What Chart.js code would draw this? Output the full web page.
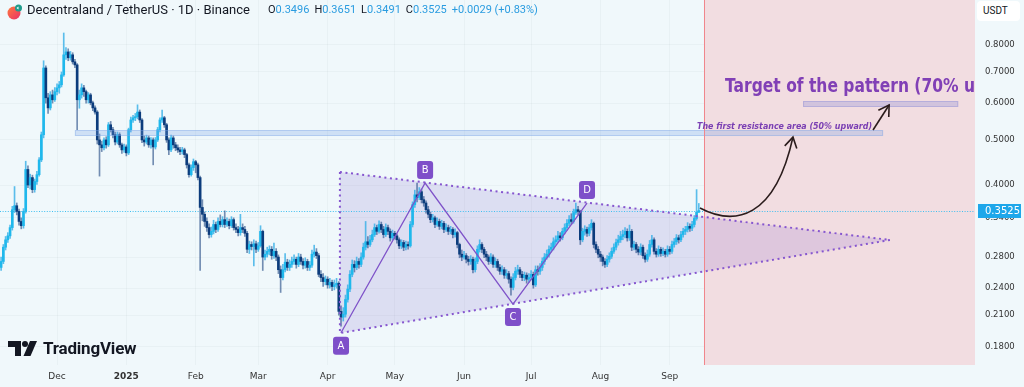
<!DOCTYPE html>
<html>
<head>
<meta charset="utf-8">
<script src="https://cdn.jsdelivr.net/npm/chart.js@4.4.0/dist/chart.umd.min.js"></script>
<style>
  html, body { margin: 0; padding: 0; background: #f0f8fb; }
  #wrap { position: relative; width: 1024px; height: 387px; overflow: hidden; font-family: Roboto, 'Noto Sans', sans-serif; }
  #chart { position: absolute; left: 0; top: 0; }
  .title { position: absolute; left: 27px; top: 2px; font-size: 13px; color: #131722; white-space: nowrap; }
  .ohlc { position: absolute; left: 268px; top: 3px; font-size: 11px; color: #131722; white-space: nowrap; }
  .ohlc b { font-weight: normal; color: #2a9ce0; margin-right: 5px; }
  .usdt { position: absolute; left: 977px; top: 1px; width: 43px; height: 20px; background: #fff; border-radius: 4px;
          font-size: 10px; color: #131722; line-height: 20px; padding-left: 6px; box-sizing: border-box; }
  .logo { position: absolute; left: 8px; top: 338px; display: flex; align-items: center; }
  .logo span { font-size: 17px; font-weight: 700; color: #131722; margin-left: 5px; letter-spacing: -0.2px; }
</style>
</head>
<body>
<div id="wrap">
  <canvas id="chart" width="1024" height="387"></canvas>
  <svg style="position:absolute;left:7px;top:4px" width="16" height="16" viewBox="0 0 16 16">
    <defs><linearGradient id="g" x1="0" y1="0" x2="1" y2="1"><stop offset="0" stop-color="#ff7a3d"/><stop offset="1" stop-color="#e8306a"/></linearGradient></defs>
    <circle cx="7" cy="9" r="6.5" fill="url(#g)"/>
    <circle cx="11.5" cy="4" r="3.5" fill="#1f9c8c"/>
    <path d="M9.5 4 l2 -1.5 l0 3 z" fill="#fff"/>
  </svg>
  <div class="title">Decentraland / TetherUS · 1D · Binance</div>
  <div class="ohlc">O<b>0.3496</b>H<b>0.3651</b>L<b>0.3491</b>C<b>0.3525</b><b>+0.0029 (+0.83%)</b></div>
  <div class="usdt">USDT</div>
  <div class="logo">
    <svg width="30" height="15" viewBox="0 0 30 15">
      <path d="M0 0 H13 V15 H7 V6 H0 Z" fill="#131722"/>
      <circle cx="17" cy="3" r="3" fill="#131722"/>
      <path d="M22 0 H29 L22.5 15 H15.5 Z" fill="#131722"/>
    </svg>
    <span>TradingView</span>
  </div>
</div>
<script>
// daily candles, DCN / USDT, 6 Nov 2024 .. 14 Sep 2025 (open = previous close)
const firstDay = Date.UTC(2024, 10, 6);
const totalDays = 436; // axis runs on into the projection area
const firstOpen = 0.266;

const close = [
  .274,.294,.305,.311,.324,.354,.361,.351,.334,.327,
  .351,.432,.400,.415,.391,.407,.421,.453,.513,.714,
  .616,.586,.625,.610,.635,.647,.657,.690,.762,.773,
  .751,.762,.736,.725,.610,.625,.647,.635,.610,.625,
  .601,.586,.574,.500,.488,.481,.500,.488,.539,.526,
  .513,.495,.513,.488,.476,.483,.469,.526,.552,.558,
  .561,.574,.552,.500,.495,.505,.488,.500,.483,.500,
  .526,.552,.558,.539,.500,.476,.505,.488,.481,.476,
  .472,.476,.465,.442,.421,.436,.449,.442,.415,.358,
  .346,.334,.324,.313,.318,.329,.321,.334,.329,.337,
  .329,.334,.327,.337,.324,.321,.316,.324,.321,.315,
  .291,.298,.295,.299,.291,.296,.318,.280,.284,.288,
  .291,.282,.288,.280,.263,.253,.263,.273,.266,.270,
  .274,.277,.270,.280,.274,.269,.274,.266,.269,.284,
  .287,.282,.257,.253,.248,.251,.244,.247,.242,.244,
  .246,.214,.208,.211,.227,.239,.257,.270,.266,.274,
  .270,.280,.294,.302,.298,.305,.313,.324,.318,.329,
  .321,.313,.324,.318,.308,.315,.311,.305,.296,.301,
  .294,.298,.296,.329,.363,.381,.376,.387,.372,.366,
  .354,.346,.337,.340,.329,.334,.326,.331,.321,.324,
  .318,.321,.313,.316,.298,.284,.280,.282,.277,.274,
  .277,.263,.274,.291,.298,.291,.284,.280,.274,.280,
  .270,.274,.266,.261,.263,.256,.258,.251,.241,.253,
  .261,.263,.257,.253,.256,.251,.253,.257,.244,.263,
  .261,.266,.274,.280,.284,.291,.294,.302,.305,.311,
  .308,.318,.324,.331,.337,.334,.349,.354,.351,.305,
  .318,.321,.315,.324,.331,.298,.291,.284,.280,.274,
  .270,.277,.281,.288,.294,.301,.305,.310,.313,.318,
  .308,.318,.294,.298,.291,.287,.294,.282,.277,.284,
  .298,.305,.288,.284,.291,.285,.288,.284,.291,.288,
  .298,.302,.308,.305,.313,.318,.321,.326,.323,.329,
  .339,.3496,.3525
];
const high = [
  .280,.298,.310,.316,.328,.360,.397,.366,.355,.340,
  .356,.450,.440,.422,.420,.412,.428,.458,.520,.740,
  .722,.630,.635,.640,.648,.660,.668,.700,.849,.790,
  .785,.775,.770,.745,.730,.640,.660,.655,.640,.632,
  .630,.606,.592,.578,.515,.497,.505,.508,.545,.548,
  .532,.520,.520,.518,.492,.490,.488,.530,.560,.565,
  .570,.595,.580,.556,.510,.512,.510,.506,.505,.506,
  .532,.558,.580,.562,.543,.505,.512,.510,.494,.488,
  .482,.482,.480,.468,.446,.442,.455,.452,.446,.418,
  .372,.350,.340,.330,.325,.336,.333,.340,.345,.342,
  .352,.340,.338,.342,.340,.330,.326,.346,.330,.326,
  .318,.303,.302,.305,.303,.301,.327,.320,.290,.294,
  .296,.295,.300,.292,.283,.268,.270,.285,.277,.276,
  .280,.283,.280,.285,.284,.278,.279,.277,.274,.290,
  .297,.292,.285,.262,.258,.255,.254,.252,.250,.250,
  .252,.248,.220,.218,.232,.244,.262,.276,.275,.280,
  .278,.286,.300,.334,.310,.312,.320,.330,.328,.335,
  .333,.326,.330,.328,.322,.320,.318,.314,.308,.305,
  .304,.303,.302,.334,.368,.390,.404,.395,.392,.378,
  .370,.360,.350,.346,.343,.340,.338,.336,.334,.330,
  .328,.326,.324,.322,.318,.300,.290,.288,.285,.281,
  .282,.280,.279,.296,.305,.301,.294,.288,.283,.285,
  .283,.279,.277,.270,.268,.266,.263,.261,.254,.258,
  .266,.269,.266,.261,.260,.259,.258,.262,.260,.268,
  .268,.271,.279,.285,.290,.296,.300,.308,.311,.318,
  .316,.323,.330,.337,.344,.347,.355,.366,.360,.353,
  .323,.327,.325,.329,.337,.333,.302,.295,.288,.283,
  .278,.282,.286,.293,.299,.306,.312,.318,.320,.324,
  .322,.328,.321,.303,.301,.295,.299,.297,.286,.290,
  .304,.312,.308,.292,.296,.294,.293,.291,.296,.295,
  .303,.307,.313,.312,.318,.323,.326,.332,.330,.334,
  .344,.391,.3651
];
const low = [
  .262,.271,.290,.301,.307,.320,.349,.345,.328,.322,
  .323,.348,.395,.392,.385,.386,.401,.418,.449,.505,
  .600,.570,.580,.600,.605,.625,.630,.650,.685,.745,
  .740,.742,.728,.715,.526,.585,.615,.620,.600,.600,
  .595,.578,.568,.490,.418,.472,.476,.480,.484,.520,
  .505,.488,.490,.482,.468,.470,.462,.465,.520,.545,
  .550,.555,.545,.493,.485,.490,.482,.480,.442,.478,
  .496,.520,.545,.532,.494,.465,.472,.480,.474,.470,
  .465,.466,.458,.435,.416,.418,.430,.425,.410,.262,
  .335,.326,.318,.308,.309,.314,.316,.318,.325,.325,
  .324,.326,.322,.324,.320,.316,.311,.312,.316,.310,
  .286,.285,.290,.268,.286,.288,.294,.262,.276,.280,
  .283,.277,.278,.275,.258,.235,.250,.260,.262,.262,
  .266,.270,.265,.267,.270,.264,.265,.262,.262,.266,
  .280,.278,.254,.248,.242,.244,.240,.240,.237,.238,
  .240,.210,.199,.204,.208,.224,.236,.254,.260,.263,
  .265,.267,.277,.290,.293,.295,.302,.310,.313,.315,
  .316,.308,.310,.313,.303,.305,.306,.300,.292,.292,
  .289,.290,.291,.294,.325,.358,.368,.372,.366,.360,
  .348,.340,.332,.333,.324,.326,.321,.322,.316,.318,
  .313,.314,.308,.309,.293,.279,.275,.277,.272,.269,
  .270,.259,.260,.271,.287,.286,.279,.275,.270,.271,
  .266,.266,.262,.257,.257,.252,.252,.246,.232,.238,
  .250,.257,.253,.249,.249,.246,.247,.250,.240,.242,
  .256,.257,.262,.270,.277,.280,.287,.290,.298,.301,
  .303,.305,.314,.320,.327,.329,.331,.346,.345,.298,
  .302,.312,.310,.311,.320,.293,.286,.279,.274,.268,
  .266,.267,.273,.278,.285,.290,.297,.301,.305,.308,
  .303,.304,.289,.290,.286,.283,.283,.278,.273,.274,
  .281,.294,.284,.280,.281,.281,.282,.280,.281,.284,
  .285,.294,.298,.300,.302,.309,.313,.317,.318,.319,
  .325,.336,.3491
];
const open = close.map((c, i) => (i ? close[i - 1] : firstOpen));

// axis
const priceTicks = [0.18, 0.21, 0.24, 0.28, 0.34, 0.4, 0.5, 0.6, 0.7, 0.8];
const monthDays = ['2024-12-01','2025-01-01','2025-02-01','2025-03-01','2025-04-01','2025-05-01','2025-06-01','2025-07-01','2025-08-01','2025-09-01'];
const monthNames = ['Dec','2025','Feb','Mar','Apr','May','Jun','Jul','Aug','Sep'];
const yMin = 0.1641, yMax = 0.9996;

// drawing tools, as [day index, price]
const triTop = [151.5, 0.4267], triBottom = [151.5, 0.1922], triApex = [397.5, 0.3047];
const wave = [[152, 0.1925], [189.6, 0.404], [228.9, 0.2219], [262, 0.3659]];
const waveNames = ['A', 'B', 'C', 'D'];
const projStart = 314.3;
const resistance = [33, 394.4, 0.5098, 0.5252];
const target = [358.6, 428, 0.5886, 0.6063];
const resistanceText = 'The first resistance area (50% upward)';
const targetText = 'Target of the pattern (70% upward)';
const curve = [[312.5, 0.357], [328, 0.326], [346, 0.338], [354.1, 0.507]];
const straight = [[389.9, 0.5252], [397.1, 0.5944]];

const labels = [];
for (let i = 0; i < totalDays; i++) labels.push(new Date(firstDay + i * 86400000).toISOString().slice(0, 10));

const UP = '#1fb8ec', DOWN = '#0c3c7c';
const upDown = close.map((c, i) => c >= open[i]);

const overlay = {
  id: 'overlay',
  beforeDatasetsDraw(chart) {
    const { ctx, chartArea: a, scales: { x, y } } = chart;
    const step = x.getPixelForValue(1) - x.getPixelForValue(0);
    const px = i => x.getPixelForValue(Math.floor(i)) + (i - Math.floor(i)) * step;
    const P = ([i, p]) => [px(i), y.getPixelForValue(p)];
    ctx.save();
    // projection zone
    const xs = px(projStart);
    ctx.fillStyle = '#f2dde1';
    ctx.fillRect(xs, a.top, a.right - xs, a.bottom - a.top);
    // triangle fill
    const t1 = P(triTop), t2 = P(triApex), t3 = P(triBottom);
    ctx.beginPath(); ctx.moveTo(...t1); ctx.lineTo(...t2); ctx.lineTo(...t3); ctx.closePath();
    ctx.fillStyle = 'rgba(126, 96, 200, 0.17)';
    ctx.fill();
    // last price line
    const yl = y.getPixelForValue(close[close.length - 1]);
    ctx.strokeStyle = '#3ebff0'; ctx.lineWidth = 1; ctx.setLineDash([1, 1.6]);
    ctx.beginPath(); ctx.moveTo(a.left, Math.round(yl) + 0.5); ctx.lineTo(a.right, Math.round(yl) + 0.5); ctx.stroke();
    ctx.restore();
  },
  afterDatasetsDraw(chart) {
    const { ctx, chartArea: a, scales: { x, y } } = chart;
    const step = x.getPixelForValue(1) - x.getPixelForValue(0);
    const px = i => x.getPixelForValue(Math.floor(i)) + (i - Math.floor(i)) * step;
    const P = ([i, p]) => [px(i), y.getPixelForValue(p)];
    ctx.save();
    ctx.beginPath(); ctx.rect(a.left, a.top, a.right - a.left, a.bottom - a.top); ctx.clip();

    // bands
    const band = (b, fill, edge) => {
      const x0 = px(b[0]), x1 = px(b[1]), y0 = y.getPixelForValue(b[3]), y1 = y.getPixelForValue(b[2]);
      ctx.fillStyle = fill; ctx.fillRect(x0, y0, x1 - x0, y1 - y0);
      ctx.strokeStyle = edge; ctx.lineWidth = 1; ctx.strokeRect(x0 + 0.5, y0 + 0.5, x1 - x0 - 1, y1 - y0 - 1);
    };
    band(resistance, 'rgba(120, 160, 230, 0.28)', 'rgba(120, 160, 230, 0.35)');
    band(target, 'rgba(140, 140, 215, 0.32)', 'rgba(140, 140, 215, 0.38)');

    // triangle border
    const t1 = P(triTop), t2 = P(triApex), t3 = P(triBottom);
    ctx.strokeStyle = '#8656cf'; ctx.lineWidth = 2; ctx.setLineDash([2, 3.6]);
    ctx.beginPath(); ctx.moveTo(...t1); ctx.lineTo(...t2); ctx.lineTo(...t3); ctx.closePath(); ctx.stroke();
    ctx.setLineDash([]);

    // wave
    ctx.strokeStyle = '#7e52c8'; ctx.lineWidth = 1.3;
    ctx.beginPath();
    wave.forEach((w, k) => { const [wx, wy] = P(w); k ? ctx.lineTo(wx, wy) : ctx.moveTo(wx, wy); });
    ctx.stroke();

    // projection border
    const xs = Math.round(px(projStart)) + 0.5;
    ctx.strokeStyle = '#f0868c'; ctx.lineWidth = 1;
    ctx.beginPath(); ctx.moveTo(xs, a.top); ctx.lineTo(xs, a.bottom); ctx.stroke();

    // wave labels
    ctx.font = '10px "DejaVu Sans", sans-serif';
    ctx.textAlign = 'center'; ctx.textBaseline = 'middle';
    wave.forEach((w, k) => {
      const [wx, wy] = P(w);
      const cy = wy + (k % 2 === 0 ? 13 : -13);
      ctx.fillStyle = '#7e4fc9';
      ctx.beginPath(); ctx.roundRect(wx - 8, cy - 9, 16, 18, 3); ctx.fill();
      ctx.fillStyle = '#fff'; ctx.fillText(waveNames[k], wx, cy + 0.5);
    });

    // arrows
    ctx.strokeStyle = '#2b1c1c'; ctx.lineWidth = 1.6;
    const c = curve.map(P);
    ctx.beginPath(); ctx.moveTo(...c[0]); ctx.bezierCurveTo(...c[1], ...c[2], ...c[3]); ctx.stroke();
    const head = (tip, from) => {
      const ang = Math.atan2(tip[1] - from[1], tip[0] - from[0]);
      ctx.beginPath();
      ctx.moveTo(tip[0] + 12 * Math.cos(ang + 2.6), tip[1] + 12 * Math.sin(ang + 2.6));
      ctx.lineTo(tip[0], tip[1]);
      ctx.lineTo(tip[0] + 12 * Math.cos(ang - 2.6), tip[1] + 12 * Math.sin(ang - 2.6));
      ctx.stroke();
    };
    head(c[3], c[2]);
    const s0 = P(straight[0]), s1 = P(straight[1]);
    ctx.beginPath(); ctx.moveTo(...s0); ctx.lineTo(...s1); ctx.stroke();
    head(s1, s0);

    // texts
    ctx.textAlign = 'left'; ctx.textBaseline = 'alphabetic';
    ctx.fillStyle = '#7a3fb3';
    ctx.font = 'italic bold 9px "DejaVu Sans", sans-serif';
    const rpos = P([311.2, resistance[3]]);
    let wdt = ctx.measureText(resistanceText).width;
    ctx.save(); ctx.translate(rpos[0], rpos[1] - 1); ctx.scale(175 / wdt, 1); ctx.fillText(resistanceText, 0, 0); ctx.restore();

    ctx.fillStyle = '#8140b6';
    ctx.font = 'bold 19px "DejaVu Sans", sans-serif';
    const tpos = P([323.7, 0.634]);
    wdt = ctx.measureText('Target of the pattern (70% u').width;
    ctx.save(); ctx.translate(tpos[0], tpos[1]); ctx.scale(250 / wdt, 1); ctx.fillText(targetText, 0, 0); ctx.restore();

    ctx.restore();
  },
  afterDraw(chart) {
    const { ctx, chartArea: a, scales: { y } } = chart;
    const last = close[close.length - 1];
    const yl = Math.round(y.getPixelForValue(last));
    ctx.save();
    ctx.fillStyle = '#1ea7ea';
    ctx.fillRect(a.right + 3, yl - 7, 43, 14);
    ctx.fillStyle = '#fff';
    ctx.font = '10px "DejaVu Sans", sans-serif';
    ctx.textBaseline = 'middle';
    ctx.fillText(last.toFixed(4), a.right + 10, yl + 0.5);
    ctx.restore();
  }
};

new Chart(document.getElementById('chart'), {
  type: 'bar',
  data: {
    labels,
    datasets: [
      {
        data: close.map((c, i) => [low[i], high[i]]),
        backgroundColor: upDown.map(u => (u ? 'rgba(40,170,230,0.75)' : 'rgba(30,70,130,0.6)')),
        barThickness: 1, grouped: false, order: 2
      },
      {
        data: close.map((c, i) => [open[i], c]),
        backgroundColor: upDown.map(u => (u ? UP : DOWN)),
        barThickness: 2, minBarLength: 1, grouped: false, order: 1
      }
    ]
  },
  options: {
    responsive: false,
    animation: false,
    devicePixelRatio: 1,
    layout: { padding: 0 },
    plugins: { legend: { display: false }, tooltip: { enabled: false } },
    scales: {
      x: {
        type: 'category',
        offset: true,
        grid: { offset: false, color: 'rgba(42,46,57,0.035)', drawTicks: false },
        border: { display: false },
        ticks: {
          autoSkip: false, maxRotation: 0, padding: 6, color: '#333',
          font: ctx => ({ family: '"DejaVu Sans", sans-serif', size: 9, weight: ctx.tick && ctx.tick.label === '2025' ? 'bold' : 'normal' }),
          callback(v) {
            const k = monthDays.indexOf(this.getLabelForValue(v));
            return k < 0 ? null : monthNames[k];
          }
        },
        afterFit: s => { s.height = 22; s.paddingLeft = 0; s.paddingRight = 0; }
      },
      y: {
        type: 'logarithmic',
        position: 'right',
        min: yMin, max: yMax,
        grid: { color: 'rgba(42,46,57,0.035)', drawTicks: false },
        border: { display: false },
        afterBuildTicks: s => { s.ticks = priceTicks.map(v => ({ value: v })); },
        ticks: {
          padding: 10, color: '#333',
          font: { family: '"DejaVu Sans", sans-serif', size: 8.5 },
          callback: v => Number(v).toFixed(4)
        },
        afterFit: s => { s.width = 49; s.paddingTop = 0; s.paddingBottom = 0; }
      }
    }
  },
  plugins: [overlay]
});
</script>
</body>
</html>
